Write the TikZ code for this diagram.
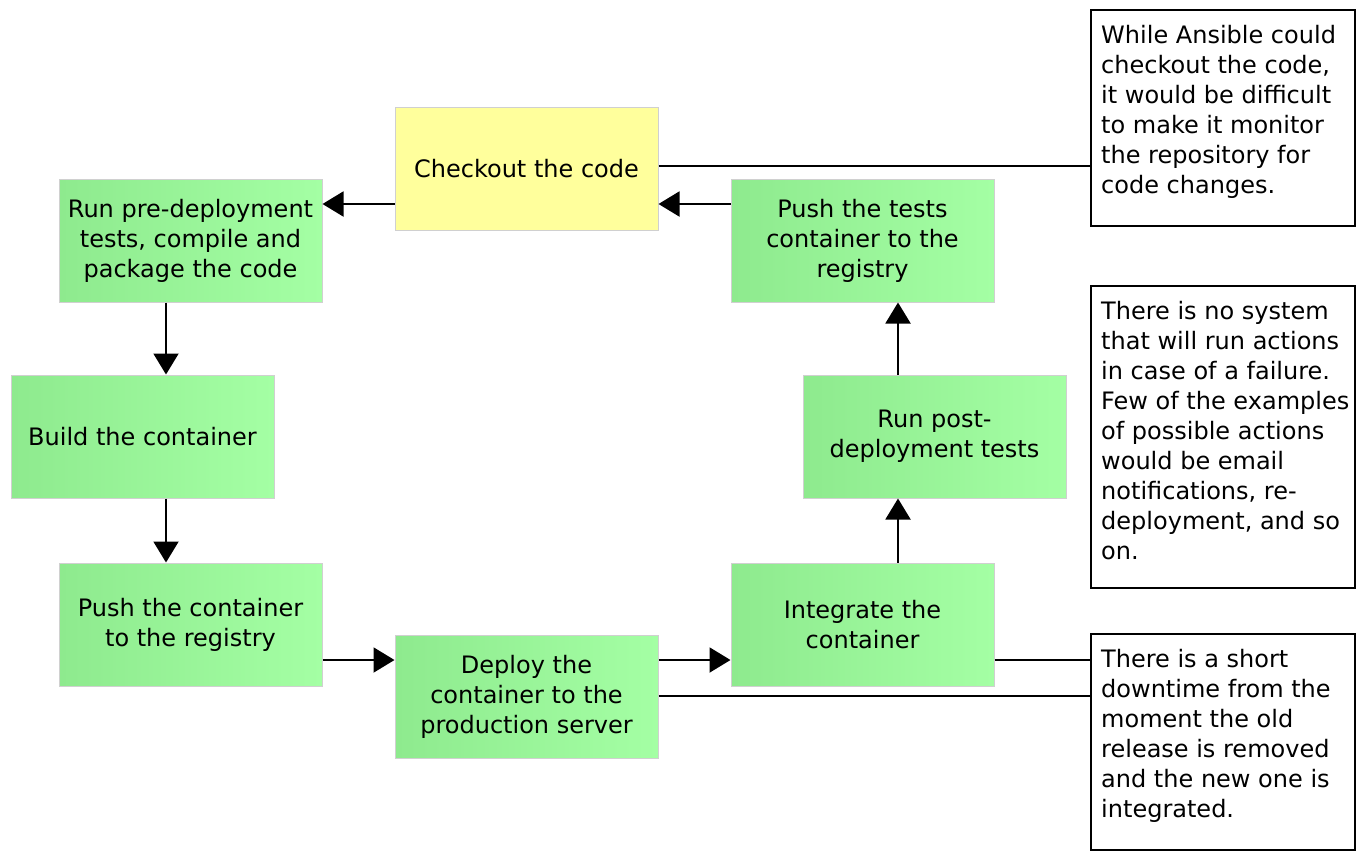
\documentclass[tikz,border=0pt]{standalone}
\usepackage{fontspec}
\setmainfont{DejaVu Sans}
\usetikzlibrary{arrows.meta}
\definecolor{gl}{HTML}{8EEA8E}
\definecolor{gr}{HTML}{A4FFA4}
\definecolor{yl}{HTML}{FFFF9C}
\definecolor{bd}{HTML}{D0D0D0}
\tikzset{
  basebox/.style={draw=bd, line width=1pt, minimum width=263pt, minimum height=123pt,
    align=center, inner sep=0pt, font=\fontsize{24}{30}\selectfont},
  greenbox/.style={basebox, left color=gl, right color=gr},
  yellowbox/.style={basebox, fill=yl},
  notebox/.style={draw=black, line width=1.5pt, minimum width=264pt, inner sep=0pt},
  notetext/.style={align=left, inner sep=0pt, anchor=north west, font=\fontsize{24}{30}\selectfont},
  arr/.style={line width=2pt, -{Triangle[length=21pt,width=25pt]}},
  link/.style={line width=2pt}
}
\begin{document}
\begin{tikzpicture}[x=1pt,y=-1pt]
\useasboundingbox (0,0) rectangle (1366,862);
\fill[white] (0,0) rectangle (1366,862);

\node[yellowbox] (check) at (526.5,168.5) {Checkout the code};
\node[greenbox] (pre) at (190.5,240.5) {Run pre-deployment\\tests, compile and\\package the code};
\node[greenbox] (build) at (142.5,436.5) {Build the container};
\node[greenbox] (pushc) at (190.5,624.5) {Push the container\\to the registry};
\node[greenbox] (deploy) at (526.5,696.5) {Deploy the\\container to the\\production server};
\node[greenbox] (integ) at (862.5,624.5) {Integrate the\\container};
\node[greenbox] (post) at (934.5,436.5) {Run post-\\deployment tests};
\node[greenbox] (pusht) at (862.5,240.5) {Push the tests\\container to the\\registry};

\node[notebox, minimum height=216pt] (n1) at (1223,118) {};
\node[notebox, minimum height=302pt] (n2) at (1223,437) {};
\node[notebox, minimum height=216pt] (n3) at (1223,742) {};

\begin{scope}
\clip (1091,10) rectangle (1354,850);
\node[notetext] (t1) at (1101,22) {\strut While Ansible could\\checkout the code,\\it would be difficult\\to make it monitor\\the repository for\\code changes.};
\node[notetext] (t2) at (1101,298) {\strut There is no system\\that will run actions\\in case of a failure.\\Few of the examples\\of possible actions\\would be email\\notifications, re-\\deployment, and so\\on.};
\node[notetext] (t3) at (1101,646) {\strut There is a short\\downtime from the\\moment the old\\release is removed\\and the new one is\\integrated.};
\end{scope}

\draw[arr] (check.west |- 0,204) -- (pre.east |- 0,204);
\draw[arr] (pusht.west |- 0,204) -- (check.east |- 0,204);
\draw[arr] (pre.south -| 166,0) -- (build.north -| 166,0);
\draw[arr] (build.south -| 166,0) -- (pushc.north -| 166,0);
\draw[arr] (pushc.east |- 0,660) -- (deploy.west |- 0,660);
\draw[arr] (deploy.east |- 0,660) -- (integ.west |- 0,660);
\draw[arr] (integ.north -| 898,0) -- (post.south -| 898,0);
\draw[arr] (post.north -| 898,0) -- (pusht.south -| 898,0);

\draw[link] (check.east |- 0,166) -- (n1.west |- 0,166);
\draw[link] (integ.east |- 0,660) -- (n3.west |- 0,660);
\draw[link] (deploy.east |- 0,696) -- (n3.west |- 0,696);
\end{tikzpicture}
\end{document}
